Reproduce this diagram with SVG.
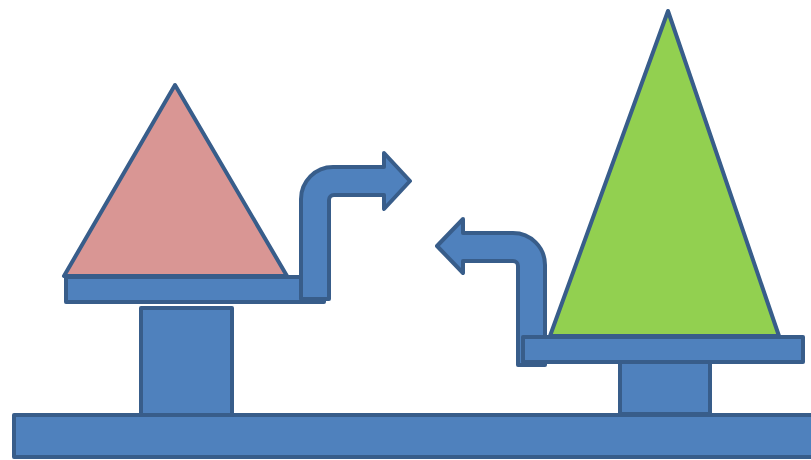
<svg xmlns="http://www.w3.org/2000/svg" width="811" height="460" viewBox="0 0 811 460">
<style>
.b{fill:#4F81BD;stroke:#385D8A;stroke-width:4;stroke-linejoin:round}
.pink{fill:#D99694;stroke:#385D8A;stroke-width:4;stroke-linejoin:round}
.green{fill:#92D050;stroke:#385D8A;stroke-width:4;stroke-linejoin:round}
</style>
<rect width="811" height="460" fill="#FFFFFF"/>
<g id="base"><rect class="b" x="14" y="415" width="810" height="42"/></g>
<g id="left-pillar"><rect class="b" x="141" y="308" width="91" height="107"/></g>
<g id="right-pillar"><rect class="b" x="620" y="362" width="90" height="52"/></g>
<g id="left-triangle"><polygon class="pink" points="175,85 64,276 287,276"/></g>
<g id="left-shelf"><rect class="b" x="66" y="277" width="258" height="25"/></g>
<g id="right-triangle"><polygon class="green" points="668,11 550,336 779,336"/></g>
<g id="connectors">
<path id="arrow-right" class="b" d="M301,299 L301,199 A32,32 0 0 1 333,167 L384,167 L384,153 L410,181 L384,209 L384,195 L334,195 A5,5 0 0 0 329,200 L329,299 Z"/>
<path id="arrow-left" class="b" d="M545,365 L545,265 A32,32 0 0 0 513,233 L463,233 L463,219 L437,246 L463,273 L463,261 L513,261 A5,5 0 0 1 518,266 L518,365 Z"/>
</g>
<g id="right-shelf"><rect class="b" x="523" y="337" width="280" height="25"/></g>
</svg>
